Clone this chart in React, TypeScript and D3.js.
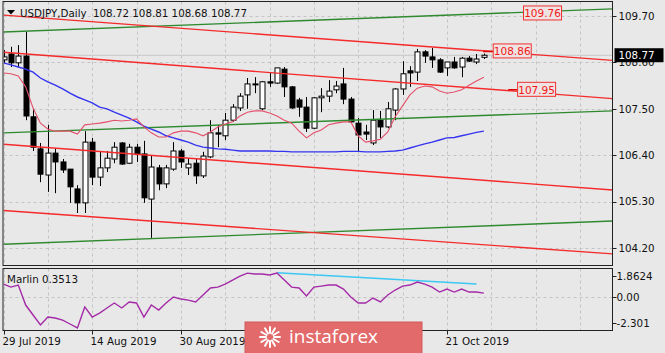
import React, { useEffect, useRef } from 'react';
import * as d3 from 'd3';

// trading days shown on the chart
const dates = [
  '2019-07-29', '2019-07-30', '2019-07-31', '2019-08-01', '2019-08-02', '2019-08-05', '2019-08-06', '2019-08-07',
  '2019-08-08', '2019-08-09', '2019-08-12', '2019-08-13', '2019-08-14', '2019-08-15', '2019-08-16', '2019-08-19',
  '2019-08-20', '2019-08-21', '2019-08-22', '2019-08-23', '2019-08-26', '2019-08-27', '2019-08-28', '2019-08-29',
  '2019-08-30', '2019-09-02', '2019-09-03', '2019-09-04', '2019-09-05', '2019-09-06', '2019-09-09', '2019-09-10',
  '2019-09-11', '2019-09-12', '2019-09-13', '2019-09-16', '2019-09-17', '2019-09-18', '2019-09-19', '2019-09-20',
  '2019-09-23', '2019-09-24', '2019-09-25', '2019-09-26', '2019-09-27', '2019-09-30', '2019-10-01', '2019-10-02',
  '2019-10-03', '2019-10-04', '2019-10-07', '2019-10-08', '2019-10-09', '2019-10-10', '2019-10-11', '2019-10-14',
  '2019-10-15', '2019-10-16', '2019-10-17', '2019-10-18', '2019-10-21', '2019-10-22', '2019-10-23', '2019-10-24',
  '2019-10-25', '2019-10-28',
];

const opens = [
  108.66, 108.80, 108.59, 108.75, 107.31, 106.55, 105.93, 106.45, 106.24, 106.07, 105.60, 105.27, 106.71, 105.88,
  106.10, 106.31, 106.69, 106.21, 106.59, 106.43, 105.36, 106.10, 105.72, 106.07, 106.50, 106.10, 106.21, 105.91,
  106.36, 106.93, 106.86, 107.23, 107.52, 107.83, 108.09, 107.50, 108.14, 108.11, 108.44, 108.02, 107.71, 107.54,
  107.04, 107.76, 107.80, 107.95, 108.09, 107.73, 107.16, 106.95, 106.69, 107.23, 107.07, 107.47, 107.97, 108.40,
  108.37, 108.85, 108.73, 108.66, 108.47, 108.61, 108.49, 108.70, 108.61, 108.72,
];
const highs = [
  108.89, 108.97, 109.01, 109.32, 107.52, 106.69, 107.12, 106.57, 106.31, 106.07, 105.69, 106.97, 106.81, 106.48,
  106.50, 106.71, 106.71, 106.67, 106.67, 106.74, 106.40, 106.17, 106.17, 106.71, 106.55, 106.33, 106.31, 106.48,
  107.23, 107.12, 107.40, 107.61, 107.87, 108.23, 108.25, 108.16, 108.35, 108.47, 108.49, 108.04, 107.76, 107.78,
  107.78, 107.99, 108.18, 108.16, 108.47, 107.78, 107.28, 107.12, 107.47, 107.45, 107.66, 107.99, 108.63, 108.51,
  108.92, 108.89, 108.94, 108.70, 108.61, 108.73, 108.73, 108.75, 108.80, 108.81,
];
const lows = [
  108.59, 108.49, 108.49, 107.23, 106.50, 105.76, 105.53, 105.50, 105.98, 105.27, 105.03, 105.03, 105.69, 105.67,
  106.00, 106.21, 106.17, 106.19, 106.24, 105.27, 104.44, 105.57, 105.62, 106.03, 106.10, 105.93, 105.72, 105.86,
  106.33, 106.59, 106.76, 107.19, 107.45, 107.50, 107.87, 107.47, 108.02, 108.09, 107.78, 107.50, 107.31, 106.95,
  107.02, 107.42, 107.66, 107.87, 107.61, 107.16, 106.48, 106.76, 106.64, 106.81, 107.04, 107.23, 107.83, 108.02,
  108.16, 108.59, 108.47, 108.35, 108.28, 108.45, 108.25, 108.61, 108.56, 108.68,
];
const closes = [
  108.73, 108.59, 108.75, 107.33, 106.59, 105.95, 106.45, 106.24, 106.05, 105.65, 105.27, 106.71, 105.88, 106.10,
  106.33, 106.59, 106.19, 106.59, 106.43, 105.39, 106.12, 105.72, 106.10, 106.50, 106.24, 106.19, 105.91, 106.38,
  106.93, 106.90, 107.23, 107.54, 107.80, 108.09, 108.07, 108.14, 108.11, 108.47, 108.02, 107.52, 107.54, 107.04,
  107.76, 107.80, 107.92, 108.04, 107.73, 107.19, 106.88, 106.90, 107.23, 107.07, 107.50, 107.97, 108.33, 108.35,
  108.85, 108.75, 108.66, 108.37, 108.61, 108.47, 108.70, 108.63, 108.68, 108.77,
];

// moving averages (red fast, blue slow)
const fastMA = [
  108.35, 108.33, 108.28, 108.02, 107.52, 107.16, 107.02, 106.97, 106.97, 106.97, 106.90, 107.12, 107.14, 107.16,
  107.19, 107.23, 107.21, 107.23, 107.26, 107.07, 106.93, 106.83, 106.83, 106.93, 106.97, 106.97, 106.93, 106.86,
  106.95, 107.07, 107.14, 107.19, 107.33, 107.42, 107.45, 107.45, 107.40, 107.33, 107.23, 107.16, 106.97, 106.81,
  106.93, 107.00, 107.12, 107.16, 107.19, 107.19, 106.86, 106.71, 106.74, 106.78, 106.95, 107.31, 107.57, 107.83,
  107.99, 108.04, 108.02, 107.92, 107.87, 107.90, 107.95, 108.06, 108.16, 108.25,
];
const slowMA = [
  108.59, 108.54, 108.49, 108.44, 108.37, 108.23, 108.14, 108.06, 107.97, 107.87, 107.78, 107.71, 107.64, 107.54,
  107.50, 107.42, 107.35, 107.28, 107.19, 107.09, 107.02, 106.95, 106.86, 106.81, 106.76, 106.71, 106.64, 106.59,
  106.57, 106.55, 106.54, 106.52, 106.50, 106.50, 106.50, 106.50, 106.50, 106.49, 106.49, 106.48, 106.48, 106.48,
  106.48, 106.48, 106.48, 106.48, 106.49, 106.49, 106.49, 106.48, 106.48, 106.48, 106.49, 106.50, 106.52, 106.57,
  106.62, 106.67, 106.71, 106.76, 106.81, 106.82, 106.86, 106.90, 106.94, 106.97,
];

// Marlin oscillator
const marlin = [
  1.15, 0.88, 1.06, -0.71, -1.59, -2.48, -1.77, -1.86, -2.04, -2.39, -2.74, -0.88, -1.77, -1.42, -0.97, -0.53,
  -0.97, -0.44, -0.53, -1.77, -0.71, -1.15, -0.53, 0.0, -0.18, -0.27, -0.44, 0.18, 0.8, 0.88, 1.15, 1.5, 1.86, 2.12,
  2.04, 2.04, 1.95, 2.12, 1.5, 0.88, 0.8, 0.09, 0.88, 0.97, 1.06, 1.06, 0.71, 0.0, -0.53, -0.53, -0.09, -0.44, 0.18,
  0.62, 0.97, 1.06, 1.33, 1.15, 0.88, 0.44, 0.71, 0.44, 0.71, 0.44, 0.44, 0.35,
];
const marlinTrend = { fromBar: 37, toBar: 64, fromValue: 2.15, toValue: 1.15 };

const priceTicks = [109.7, 108.6, 107.5, 106.4, 105.3, 104.2];
const marlinTicks = [1.8624, 0, -2.301];
const marlinTickLabels = ['1.8624', '0.00', '-2.301'];
const dateTickBars = [0, 12, 24, 36, 48, 60];
const dateTickLabels = ['29 Jul 2019', '14 Aug 2019', '30 Aug 2019', '17 Sep 2019', '3 Oct 2019', '21 Oct 2019'];

// channel lines: price at bar 0 and at bar 60
const redChannels = [
  [109.72, 108.94],
  [108.84, 108.04],
  [106.66, 105.87],
  [105.09, 104.34],
];
const greenChannels = [
  [109.32, 109.72],
  [106.93, 107.31],
  [104.29, 104.69],
];

const priceLabels = [
  { text: '109.76', value: 109.76, bar: 70.3, lead: 0 },
  { text: '108.86', value: 108.86, bar: 66.2, lead: 1.3 },
  { text: '107.95', value: 107.95, bar: 69.5, lead: 1.2 },
];
const lastPrice = 108.77;

const App: React.FC = () => {
  const svgRef = useRef<SVGSVGElement>(null);
  const width = 665;
  const height = 353;

  useEffect(() => {
    document.body.style.margin = '0';
    if (!svgRef.current) return;
    const svg = d3.select(svgRef.current);
    svg.selectAll('*').remove();

    const left = 3.5;
    const right = 612.5;
    const mainTop = 1.5;
    const mainBottom = 265.5;
    const subTop = 268.5;
    const subBottom = 330.5;
    const font = 'DejaVu Sans, Verdana, sans-serif';

    const x = d3.scaleLinear().domain([0, 65]).range([3.5, 483.85]);
    const y = d3.scaleLinear().domain([104.2, 109.7]).range([248, 16]);
    const ym = d3.scaleLinear().domain([-2.301, 1.8624]).range([323, 276]);

    svg.append('rect').attr('width', width).attr('height', height).attr('fill', '#e8e8e8');

    const defs = svg.append('defs');
    defs.append('clipPath').attr('id', 'mainClip')
      .append('rect').attr('x', left).attr('y', mainTop).attr('width', right - left).attr('height', mainBottom - mainTop);
    defs.append('clipPath').attr('id', 'subClip')
      .append('rect').attr('x', left).attr('y', subTop).attr('width', right - left).attr('height', subBottom - subTop);

    const gridBars = d3.range(0, 84, 6);

    // main panel
    const main = svg.append('g').attr('clip-path', 'url(#mainClip)');
    main.selectAll('.vgrid').data(gridBars).enter().append('line')
      .attr('x1', d => Math.round(x(d)) + 0.5).attr('x2', d => Math.round(x(d)) + 0.5)
      .attr('y1', mainTop).attr('y2', mainBottom)
      .attr('stroke', '#c4c4c4').attr('stroke-dasharray', '3,3');
    main.selectAll('.hgrid').data(priceTicks).enter().append('line')
      .attr('x1', left).attr('x2', right)
      .attr('y1', d => Math.round(y(d)) + 0.5).attr('y2', d => Math.round(y(d)) + 0.5)
      .attr('stroke', '#c4c4c4').attr('stroke-dasharray', '3,3');

    // bid line
    main.append('line')
      .attr('x1', left).attr('x2', right)
      .attr('y1', y(lastPrice)).attr('y2', y(lastPrice))
      .attr('stroke', '#c6c6c6').attr('stroke-width', 1.2);

    // candles
    const candles = main.selectAll('.candle').data(dates).enter().append('g');
    candles.append('line')
      .attr('x1', (d, i) => Math.round(x(i)) + 0.5).attr('x2', (d, i) => Math.round(x(i)) + 0.5)
      .attr('y1', (d, i) => y(highs[i])).attr('y2', (d, i) => y(lows[i]))
      .attr('stroke', '#000').attr('stroke-width', 1);
    candles.append('rect')
      .attr('x', (d, i) => Math.round(x(i)) - 2)
      .attr('y', (d, i) => y(Math.max(opens[i], closes[i])))
      .attr('width', 5)
      .attr('height', (d, i) => Math.max(1, Math.abs(y(opens[i]) - y(closes[i]))))
      .attr('fill', (d, i) => (closes[i] >= opens[i] ? '#fff' : '#000'))
      .attr('stroke', '#000').attr('stroke-width', 1);

    // channel lines
    const b0 = x.invert(left);
    const b1 = x.invert(right);
    const channelLine = (p: number[], color: string) => {
      const slope = (p[1] - p[0]) / 60;
      main.append('line')
        .attr('x1', x(b0)).attr('x2', x(b1))
        .attr('y1', y(p[0] + slope * b0)).attr('y2', y(p[0] + slope * b1))
        .attr('stroke', color).attr('stroke-width', 1.4);
    };
    greenChannels.forEach(p => channelLine(p, '#2f8a2f'));
    redChannels.forEach(p => channelLine(p, '#f52a2a'));

    // moving averages
    const line = d3.line<number>().x((d, i) => x(i)).y(d => y(d));
    main.append('path').datum(slowMA).attr('d', line)
      .attr('fill', 'none').attr('stroke', '#3434f0').attr('stroke-width', 1.4);
    main.append('path').datum(fastMA).attr('d', line)
      .attr('fill', 'none').attr('stroke', '#e4506a').attr('stroke-width', 1.1);

    // price labels
    priceLabels.forEach(l => {
      const bx = x(l.bar);
      const by = y(l.value);
      if (l.lead > 0) {
        main.append('line')
          .attr('x1', x(l.bar - l.lead)).attr('x2', bx)
          .attr('y1', by).attr('y2', by)
          .attr('stroke', '#e00000').attr('stroke-width', 1.5);
      }
      main.append('rect')
        .attr('x', bx + 0.5).attr('y', by - 7.5).attr('width', 38).attr('height', 14)
        .attr('fill', '#efe2e2').attr('stroke', '#f03030').attr('stroke-width', 1);
      main.append('text')
        .attr('x', bx + 19.5).attr('y', by).attr('dy', '0.36em')
        .attr('text-anchor', 'middle')
        .style('font-family', font).style('font-size', '10.5px')
        .attr('fill', '#f01818')
        .text(l.text);
    });

    // sub panel
    const sub = svg.append('g').attr('clip-path', 'url(#subClip)');
    sub.selectAll('.vgrid').data(gridBars).enter().append('line')
      .attr('x1', d => Math.round(x(d)) + 0.5).attr('x2', d => Math.round(x(d)) + 0.5)
      .attr('y1', subTop).attr('y2', subBottom)
      .attr('stroke', '#c4c4c4').attr('stroke-dasharray', '3,3');
    sub.append('line')
      .attr('x1', left).attr('x2', right)
      .attr('y1', Math.round(ym(0)) + 0.5).attr('y2', Math.round(ym(0)) + 0.5)
      .attr('stroke', '#c4c4c4').attr('stroke-dasharray', '3,3');
    sub.append('line')
      .attr('x1', x(marlinTrend.fromBar)).attr('x2', x(marlinTrend.toBar))
      .attr('y1', ym(marlinTrend.fromValue)).attr('y2', ym(marlinTrend.toValue))
      .attr('stroke', '#3cc8f4').attr('stroke-width', 1.5);
    const mline = d3.line<number>().x((d, i) => x(i)).y(d => ym(d));
    sub.append('path').datum(marlin).attr('d', mline)
      .attr('fill', 'none').attr('stroke', '#a42aa8').attr('stroke-width', 1.4);

    // frames
    svg.append('rect')
      .attr('x', left - 0.5).attr('y', mainTop).attr('width', right - left + 0.5).attr('height', mainBottom - mainTop)
      .attr('fill', 'none').attr('stroke', '#222').attr('stroke-width', 1);
    svg.append('rect')
      .attr('x', left - 0.5).attr('y', subTop).attr('width', right - left + 0.5).attr('height', subBottom - subTop)
      .attr('fill', 'none').attr('stroke', '#222').attr('stroke-width', 1);

    // right axis
    const axis = svg.append('g').style('font-family', font).style('font-size', '10.3px');
    priceTicks.forEach(t => {
      axis.append('line').attr('x1', right).attr('x2', right + 4)
        .attr('y1', Math.round(y(t)) + 0.5).attr('y2', Math.round(y(t)) + 0.5).attr('stroke', '#222');
      axis.append('text').attr('x', right + 6).attr('y', y(t)).attr('dy', '0.36em')
        .attr('fill', '#111').text(t.toFixed(2));
    });
    marlinTicks.forEach((t, i) => {
      axis.append('line').attr('x1', right).attr('x2', right + 4)
        .attr('y1', Math.round(ym(t)) + 0.5).attr('y2', Math.round(ym(t)) + 0.5).attr('stroke', '#222');
      axis.append('text').attr('x', right + 4).attr('y', ym(t)).attr('dy', '0.36em')
        .attr('fill', '#111').text(marlinTickLabels[i]);
    });
    axis.append('rect').attr('x', right + 2).attr('y', y(lastPrice) - 7).attr('width', 49).attr('height', 14)
      .attr('fill', '#000');
    axis.append('text').attr('x', right + 6).attr('y', y(lastPrice)).attr('dy', '0.36em')
      .attr('fill', '#fff').text(lastPrice.toFixed(2));

    // bottom axis
    dateTickBars.forEach((b, i) => {
      const tx = Math.round(x(b)) + 0.5;
      axis.append('line').attr('x1', tx).attr('x2', tx).attr('y1', subBottom).attr('y2', subBottom + 4)
        .attr('stroke', '#222');
      axis.append('text').attr('x', tx - 2).attr('y', 341).attr('dy', '0.36em')
        .attr('fill', '#111').text(dateTickLabels[i]);
    });

    // titles
    svg.append('path').attr('d', 'M7,10 L15,10 L11,14.5 Z').attr('fill', '#000');
    svg.append('text').attr('x', 20).attr('y', 13).attr('dy', '0.36em')
      .style('font-family', font).style('font-size', '10.3px').attr('fill', '#111')
      .text('USDJPY,Daily');
    svg.append('text').attr('x', 93).attr('y', 13).attr('dy', '0.36em')
      .style('font-family', font).style('font-size', '10.3px').attr('fill', '#111')
      .text(`${opens[65].toFixed(2)} ${highs[65].toFixed(2)} ${lows[65].toFixed(2)} ${closes[65].toFixed(2)}`);
    svg.append('text').attr('x', 7).attr('y', 279).attr('dy', '0.36em')
      .style('font-family', font).style('font-size', '10.3px').attr('fill', '#111')
      .text(`Marlin ${'0.3513'}`);

    // watermark logo (covers the middle date labels, as in the source)
    const logo = svg.append('g');
    logo.append('rect').attr('x', 245).attr('y', 322).attr('width', 177).attr('height', 32)
      .attr('fill', '#e36a6a').attr('stroke', '#d45a5a');
    const cx = 270;
    const cy = 337;
    d3.range(0, 360, 30).forEach(a => {
      const r = (a * Math.PI) / 180;
      logo.append('line')
        .attr('x1', cx + Math.cos(r) * 4).attr('y1', cy + Math.sin(r) * 4)
        .attr('x2', cx + Math.cos(r) * 10).attr('y2', cy + Math.sin(r) * 10)
        .attr('stroke', '#fff').attr('stroke-width', 2).attr('stroke-linecap', 'round');
    });
    logo.append('text').attr('x', 289).attr('y', 343)
      .style('font-family', 'Open Sans, sans-serif').style('font-size', '19px')
      .attr('fill', '#fff').text('instaforex');
  }, []);

  return <svg ref={svgRef} width={width} height={height} style={{ display: 'block' }} />;
};

export default App;
